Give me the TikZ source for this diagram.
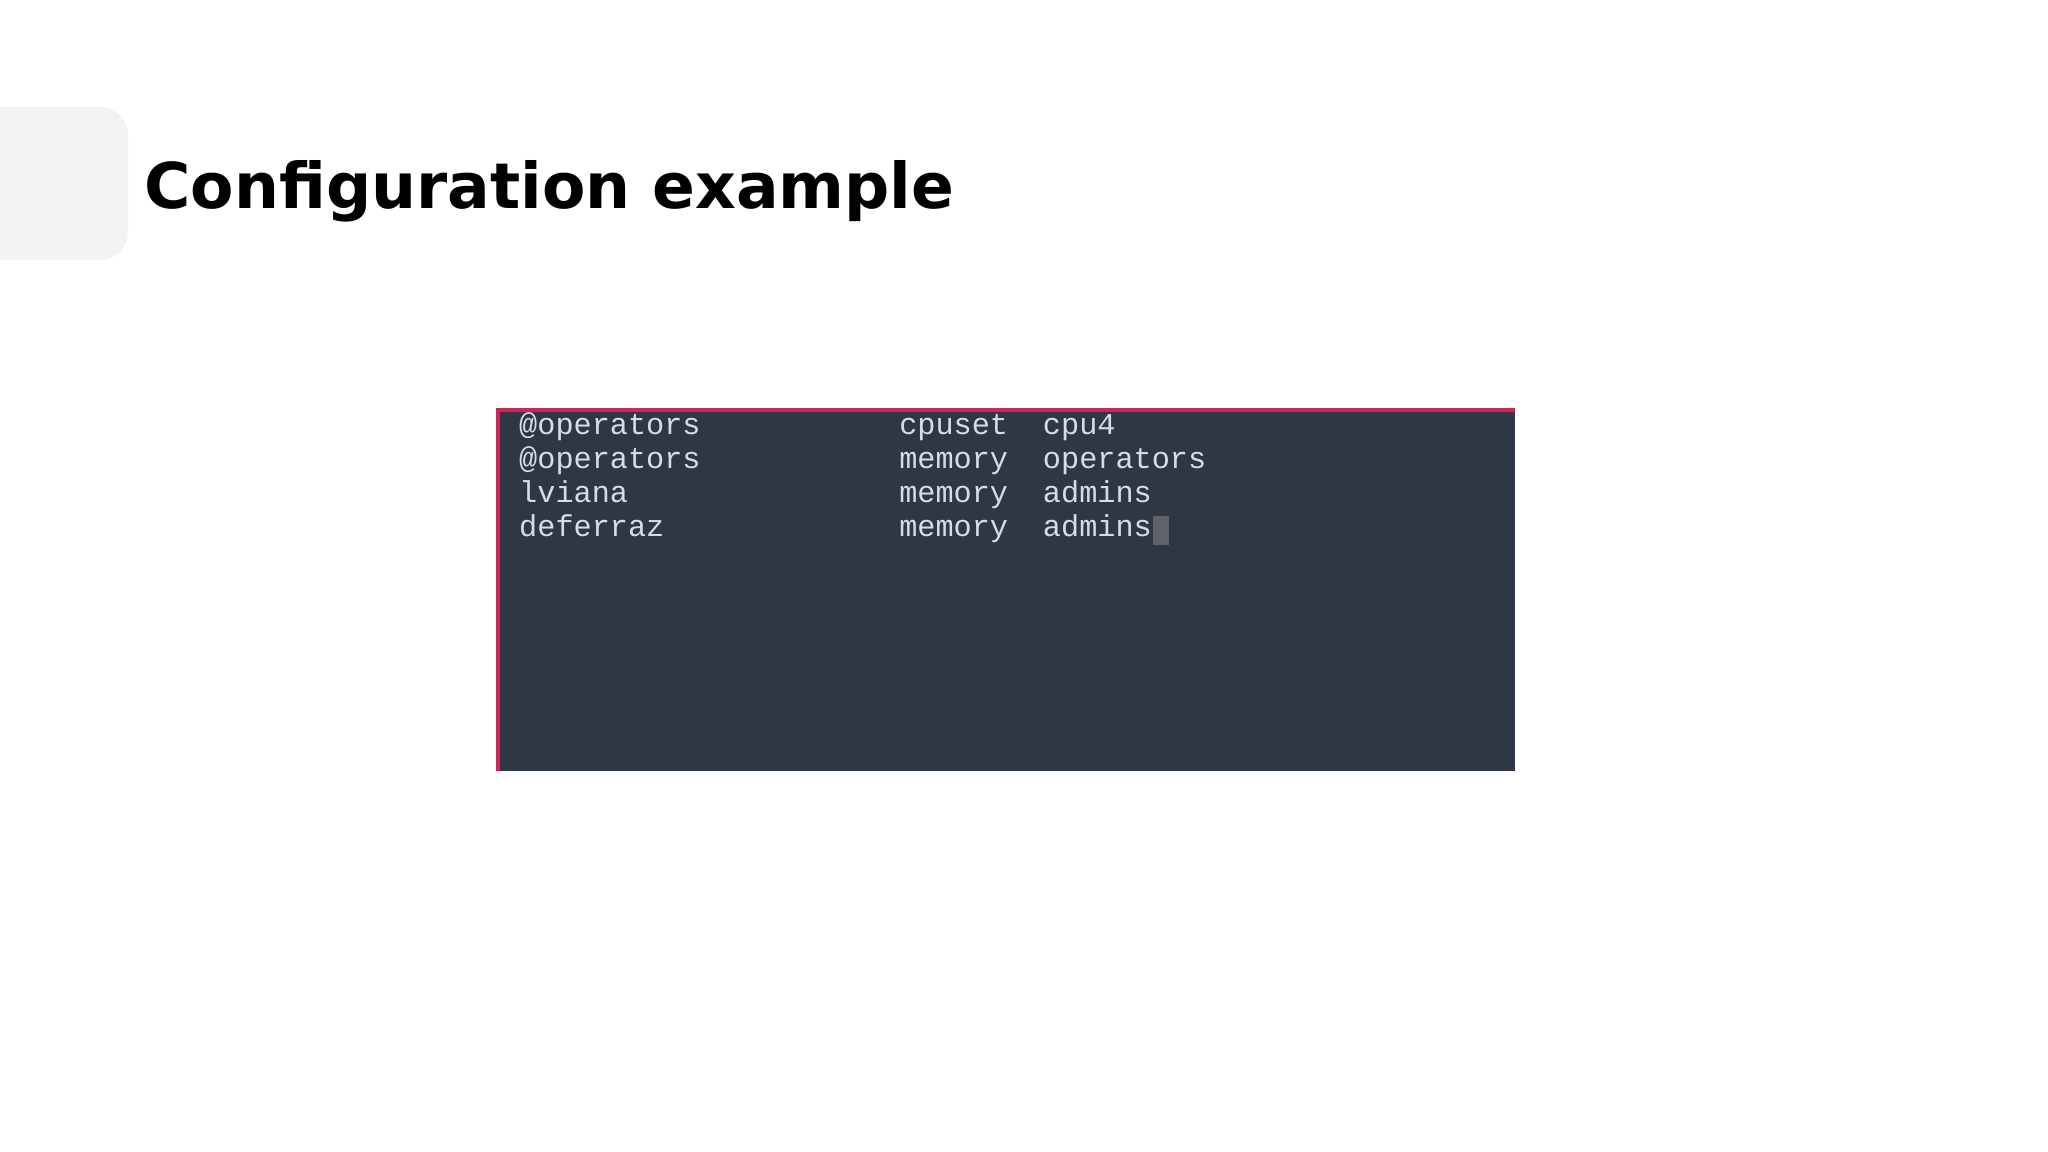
\documentclass[tikz,border=0pt]{standalone}
\usepackage{fontspec}
\setmainfont{DejaVu Sans}
\newfontfamily\termfont{Liberation Mono}
\definecolor{termbg}{HTML}{2F3644}
\definecolor{termfg}{HTML}{D8DCE2}
\definecolor{edge}{HTML}{C8285A}
\begin{document}
\begin{tikzpicture}[x={0.013061cm},y={-0.013061cm},
  tline/.style={anchor=base west,inner sep=0pt,text=termfg,font=\termfont\fontsize{8.6pt}{10pt}\selectfont}]
\useasboundingbox (0,0) rectangle (1568,882);
\fill[white] (0,0) rectangle (1568,882);
\fill[gray!10,rounded corners=8pt] (-20,82) rectangle (98,199);
\node[anchor=base west,inner sep=0pt] (title) at (110,160) {\resizebox{8.1cm}{!}{\bfseries Configuration example}};
\fill[termbg] (380,313) rectangle (1160,590);
\draw[edge,line width=1.2pt] (381,590) -- (381,314) -- (1160,314);
\foreach \y/\a/\b/\c in {333/@operators/cpuset/cpu4,359/@operators/memory/operators,385/lviana/memory/admins,411/deferraz/memory/admins}{
  \node[tline] at (397,\y) {\a};
  \node[tline] at (688,\y) {\b};
  \node[tline] at (798,\y) {\c};
}
\fill[gray!60!termbg] (883,395) rectangle (895,417);
\end{tikzpicture}
\end{document}
